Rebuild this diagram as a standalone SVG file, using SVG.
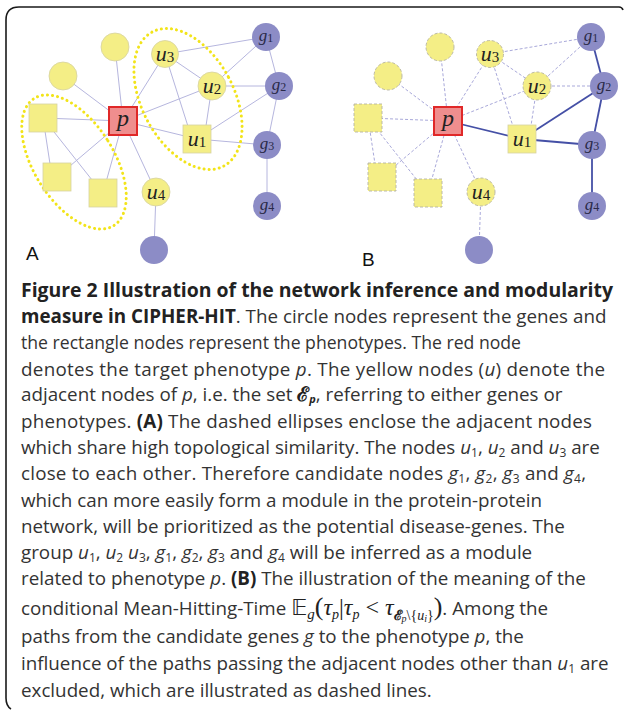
<svg xmlns="http://www.w3.org/2000/svg" width="624" height="710" viewBox="0 0 624 710">
<style>
.e{stroke:#b6b6de;stroke-width:1;fill:none}
.ed{stroke:#a9a9da;stroke-width:1;stroke-dasharray:3 2;fill:none}
.es{stroke:#4550a6;stroke-width:1.8;fill:none}
.y{fill:#f4ee86;stroke:#d6d2a2;stroke-width:0.8}
.yd{fill:#f4ee86;stroke:#b4b2a4;stroke-width:0.9;stroke-dasharray:3 2}
.g{fill:#8c8cc6}
.p{fill:#ef8e8e;stroke:#e02828;stroke-width:2}
.ell{fill:none;stroke:#f2e41a;stroke-width:3;stroke-linecap:round;stroke-dasharray:0.1 5}
.lu{font-family:"Liberation Serif",serif;font-style:italic;font-size:22px;fill:#222;text-anchor:middle}
.lg{font-family:"Liberation Serif",serif;font-style:italic;font-size:17px;fill:#2a2a48;text-anchor:middle}
.lp{font-family:"Liberation Serif",serif;font-style:italic;font-size:24px;fill:#222;text-anchor:middle}
.d{font-style:normal;font-size:15px}
.dg{font-style:normal;font-size:12px}
.lab{font-family:"Liberation Sans",Arial,sans-serif;font-size:19px;fill:#111}
.cap{font-family:"Open Sans",sans-serif;font-size:18.8px;fill:#333}
.b{font-weight:bold;fill:#222}
.i{font-style:italic}
.s{font-size:12px}
.m{font-family:"Liberation Serif",serif;font-style:italic}
.mr{font-family:"Liberation Serif",serif;font-style:normal}
</style>
<path d="M 11 709 Q 6 706 6 698 L 6 20 Q 6 7 19 7 L 619 7 Q 622 7 623 10" fill="none" stroke="#1a1a1a" stroke-width="1.6"/>

<!-- Panel A connectors -->
<g id="edges-a">
<line class="e" x1="123" y1="121" x2="115" y2="47"/>
<line class="e" x1="123" y1="121" x2="63" y2="76"/>
<line class="e" x1="123" y1="121" x2="165" y2="54"/>
<line class="e" x1="123" y1="121" x2="212" y2="86"/>
<line class="e" x1="123" y1="121" x2="197" y2="139"/>
<line class="e" x1="123" y1="121" x2="43" y2="118"/>
<line class="e" x1="123" y1="121" x2="57" y2="177"/>
<line class="e" x1="123" y1="121" x2="103" y2="193"/>
<line class="e" x1="123" y1="121" x2="156" y2="192"/>
<line class="e" x1="156" y1="192" x2="154" y2="250"/>
<line class="e" x1="43" y1="118" x2="52" y2="177"/>
<line class="e" x1="43" y1="118" x2="96" y2="185"/>
<line class="e" x1="165" y1="54" x2="212" y2="86"/>
<line class="e" x1="165" y1="54" x2="192" y2="139"/>
<line class="e" x1="165" y1="54" x2="266" y2="37"/>
<line class="e" x1="212" y1="86" x2="204" y2="139"/>
<line class="e" x1="212" y1="86" x2="266" y2="37"/>
<line class="e" x1="212" y1="86" x2="279" y2="86"/>
<line class="e" x1="197" y1="139" x2="279" y2="86"/>
<line class="e" x1="197" y1="139" x2="267" y2="145"/>
<line class="e" x1="266" y1="37" x2="279" y2="86"/>
<line class="e" x1="279" y1="86" x2="267" y2="145"/>
<line class="e" x1="267" y1="145" x2="267" y2="206"/>
</g>
<g id="ellipses-a">
<ellipse class="ell" cx="188" cy="99" rx="46" ry="76" transform="rotate(-28 188 99)"/>
<ellipse class="ell" cx="74" cy="162" rx="40" ry="75" transform="rotate(-32 74 162)"/>
</g>
<g id="a-c1"><circle class="y" cx="115" cy="47" r="14"/></g>
<g id="a-c2"><circle class="y" cx="63" cy="76" r="14"/></g>
<g id="a-u3"><circle class="y" cx="165" cy="54" r="13.5"/><text class="lu" x="165" y="60.5">u<tspan class="d" dy="1">3</tspan></text></g>
<g id="a-u2"><circle class="y" cx="212" cy="86" r="14"/><text class="lu" x="212" y="92.5">u<tspan class="d" dy="1">2</tspan></text></g>
<g id="a-g1"><circle class="g" cx="266" cy="37" r="14"/><text class="lg" x="266" y="41">g<tspan class="dg" dy="1">1</tspan></text></g>
<g id="a-g2"><circle class="g" cx="279" cy="86" r="14"/><text class="lg" x="279" y="90">g<tspan class="dg" dy="1">2</tspan></text></g>
<g id="a-p"><rect class="p" x="109" y="107" width="28" height="28"/><text class="lp" x="123" y="126">p</text></g>
<g id="a-s1"><rect class="y" x="29" y="104" width="28" height="28"/></g>
<g id="a-u1"><rect class="y" x="183" y="125" width="28" height="28"/><text class="lu" x="197" y="145.5">u<tspan class="d" dy="1">1</tspan></text></g>
<g id="a-g3"><circle class="g" cx="267" cy="145" r="14"/><text class="lg" x="267" y="149">g<tspan class="dg" dy="1">3</tspan></text></g>
<g id="a-g4"><circle class="g" cx="267" cy="206" r="14"/><text class="lg" x="267" y="210">g<tspan class="dg" dy="1">4</tspan></text></g>
<g id="a-s2"><rect class="y" x="43" y="163" width="28" height="28"/></g>
<g id="a-s3"><rect class="y" x="89" y="179" width="28" height="28"/></g>
<g id="a-u4"><circle class="y" cx="156" cy="192" r="14"/><text class="lu" x="156" y="198.5">u<tspan class="d" dy="1">4</tspan></text></g>
<g id="a-g5"><circle class="g" cx="154" cy="250" r="14"/></g>
<text class="lab" x="26" y="260">A</text>

<!-- Panel B connectors -->
<g id="edges-b">
<line class="ed" x1="448" y1="121" x2="440" y2="47"/>
<line class="ed" x1="448" y1="121" x2="388" y2="76"/>
<line class="ed" x1="448" y1="121" x2="490" y2="54"/>
<line class="ed" x1="448" y1="121" x2="537" y2="86"/>
<line class="ed" x1="448" y1="121" x2="368" y2="118"/>
<line class="ed" x1="448" y1="121" x2="382" y2="177"/>
<line class="ed" x1="448" y1="121" x2="428" y2="193"/>
<line class="ed" x1="448" y1="121" x2="481" y2="192"/>
<line class="ed" x1="481" y1="192" x2="479" y2="250"/>
<line class="ed" x1="368" y1="118" x2="377" y2="177"/>
<line class="ed" x1="368" y1="118" x2="421" y2="185"/>
<line class="ed" x1="490" y1="54" x2="537" y2="86"/>
<line class="ed" x1="490" y1="54" x2="517" y2="139"/>
<line class="ed" x1="490" y1="54" x2="591" y2="37"/>
<line class="ed" x1="537" y1="86" x2="529" y2="139"/>
<line class="ed" x1="537" y1="86" x2="591" y2="37"/>
<line class="ed" x1="537" y1="86" x2="604" y2="86"/>
<line class="es" x1="448" y1="121" x2="522" y2="139"/>
<line class="es" x1="522" y1="139" x2="604" y2="86"/>
<line class="es" x1="522" y1="139" x2="592" y2="145"/>
<line class="es" x1="591" y1="37" x2="604" y2="86"/>
<line class="es" x1="604" y1="86" x2="592" y2="145"/>
<line class="es" x1="592" y1="145" x2="592" y2="206"/>
</g>
<g id="b-c1"><circle class="yd" cx="440" cy="47" r="14"/></g>
<g id="b-c2"><circle class="yd" cx="388" cy="76" r="14"/></g>
<g id="b-u3"><circle class="yd" cx="490" cy="54" r="13.5"/><text class="lu" x="490" y="60.5">u<tspan class="d" dy="1">3</tspan></text></g>
<g id="b-u2"><circle class="yd" cx="537" cy="86" r="14"/><text class="lu" x="537" y="92.5">u<tspan class="d" dy="1">2</tspan></text></g>
<g id="b-g1"><circle class="g" cx="591" cy="37" r="14"/><text class="lg" x="591" y="41">g<tspan class="dg" dy="1">1</tspan></text></g>
<g id="b-g2"><circle class="g" cx="604" cy="86" r="14"/><text class="lg" x="604" y="90">g<tspan class="dg" dy="1">2</tspan></text></g>
<g id="b-p"><rect class="p" x="434" y="107" width="28" height="28"/><text class="lp" x="448" y="126">p</text></g>
<g id="b-s1"><rect class="yd" x="354" y="104" width="28" height="28"/></g>
<g id="b-u1"><rect class="y" x="508" y="125" width="28" height="28"/><text class="lu" x="522" y="145.5">u<tspan class="d" dy="1">1</tspan></text></g>
<g id="b-g3"><circle class="g" cx="592" cy="145" r="14"/><text class="lg" x="592" y="149">g<tspan class="dg" dy="1">3</tspan></text></g>
<g id="b-g4"><circle class="g" cx="592" cy="206" r="14"/><text class="lg" x="592" y="210">g<tspan class="dg" dy="1">4</tspan></text></g>
<g id="b-s2"><rect class="yd" x="368" y="163" width="28" height="28"/></g>
<g id="b-s3"><rect class="yd" x="414" y="179" width="28" height="28"/></g>
<g id="b-u4"><circle class="yd" cx="481" cy="192" r="14"/><text class="lu" x="481" y="198.5">u<tspan class="d" dy="1">4</tspan></text></g>
<g id="b-g5"><circle class="g" cx="479" cy="250" r="14"/></g>
<text class="lab" x="362" y="266">B</text>

<!-- Caption -->
<g id="caption" class="cap">
<text x="21" y="297" class="b" textLength="592" lengthAdjust="spacingAndGlyphs">Figure 2 Illustration of the network inference and modularity</text>
<text x="21" y="323.2"><tspan class="b">measure in CIPHER-HIT</tspan>. The circle nodes represent the genes and</text>
<text x="21" y="349.4" textLength="500" lengthAdjust="spacingAndGlyphs">the rectangle nodes represent the phenotypes. The red node</text>
<text x="21" y="375.6" textLength="584">denotes the target phenotype <tspan class="i">p</tspan>. The yellow nodes (<tspan class="i">u</tspan>) denote the</text>
<text x="21" y="401.2">adjacent nodes of <tspan class="i">p</tspan>, i.e. the set <tspan font-family="DejaVu Serif,serif" font-size="20px" font-weight="bold" fill="#222">ℰ</tspan><tspan class="i b" font-size="11px" dy="2">p</tspan><tspan dy="-2">, referring to either genes or</tspan></text>
<text x="21" y="428" textLength="571">phenotypes. <tspan class="b">(A)</tspan> The dashed ellipses enclose the adjacent nodes</text>
<text x="21" y="454.2">which share high topological similarity. The nodes <tspan class="i">u</tspan><tspan class="s" dy="3">1</tspan><tspan dy="-3">, </tspan><tspan class="i">u</tspan><tspan class="s" dy="3">2</tspan><tspan dy="-3"> and </tspan><tspan class="i">u</tspan><tspan class="s" dy="3">3</tspan><tspan dy="-3"> are</tspan></text>
<text x="21" y="480.4" textLength="565">close to each other. Therefore candidate nodes <tspan class="i">g</tspan><tspan class="s" dy="3">1</tspan><tspan dy="-3">, </tspan><tspan class="i">g</tspan><tspan class="s" dy="3">2</tspan><tspan dy="-3">, </tspan><tspan class="i">g</tspan><tspan class="s" dy="3">3</tspan><tspan dy="-3"> and </tspan><tspan class="i">g</tspan><tspan class="s" dy="3">4</tspan><tspan dy="-3">,</tspan></text>
<text x="21" y="506.6">which can more easily form a module in the protein-protein</text>
<text x="21" y="532.8">network, will be prioritized as the potential disease-genes. The</text>
<text x="21" y="559">group <tspan class="i">u</tspan><tspan class="s" dy="3">1</tspan><tspan dy="-3">, </tspan><tspan class="i">u</tspan><tspan class="s" dy="3">2</tspan><tspan dy="-3"> </tspan><tspan class="i">u</tspan><tspan class="s" dy="3">3</tspan><tspan dy="-3">, </tspan><tspan class="i">g</tspan><tspan class="s" dy="3">1</tspan><tspan dy="-3">, </tspan><tspan class="i">g</tspan><tspan class="s" dy="3">2</tspan><tspan dy="-3">, </tspan><tspan class="i">g</tspan><tspan class="s" dy="3">3</tspan><tspan dy="-3"> and </tspan><tspan class="i">g</tspan><tspan class="s" dy="3">4</tspan><tspan dy="-3"> will be inferred as a module</tspan></text>
<text x="21" y="585.2">related to phenotype <tspan class="i">p</tspan>. <tspan class="b">(B)</tspan> The illustration of the meaning of the</text>
<text x="21" y="615">conditional Mean-Hitting-Time <tspan font-family="DejaVu Sans,sans-serif" font-size="22px" fill="#222">𝔼</tspan><tspan class="m" font-size="15px" dy="4" fill="#222">g</tspan><tspan class="mr" font-size="26px" dy="-4" fill="#222">(</tspan><tspan class="m" font-size="24px" fill="#222">τ</tspan><tspan class="m" font-size="14px" dy="4" fill="#222">p</tspan><tspan class="mr" font-size="24px" dy="-4" fill="#222">|</tspan><tspan class="m" font-size="24px" fill="#222">τ</tspan><tspan class="m" font-size="14px" dy="4" fill="#222">p</tspan><tspan class="mr" font-size="24px" dy="-4" fill="#222">  &lt;  </tspan><tspan class="m" font-size="24px" fill="#222">τ</tspan><tspan font-family="DejaVu Serif,serif" font-size="14px" font-weight="bold" dy="5" fill="#222">ℰ</tspan><tspan class="m" font-size="10px" dy="2" fill="#222">p</tspan><tspan class="mr" font-size="14px" dy="-2" fill="#222">\{</tspan><tspan class="m" font-size="14px" fill="#222">u</tspan><tspan class="m" font-size="10px" dy="2" fill="#222">i</tspan><tspan class="mr" font-size="14px" dy="-2" fill="#222">}</tspan><tspan class="mr" font-size="26px" dy="-5" fill="#222">)</tspan><tspan>. Among the</tspan></text>
<text x="21" y="643">paths from the candidate genes <tspan class="i">g</tspan> to the phenotype <tspan class="i">p</tspan>, the</text>
<text x="21" y="670">influence of the paths passing the adjacent nodes other than <tspan class="i">u</tspan><tspan class="s" dy="3">1</tspan><tspan dy="-3"> are</tspan></text>
<text x="21" y="697">excluded, which are illustrated as dashed lines.</text>
</g>
</svg>
